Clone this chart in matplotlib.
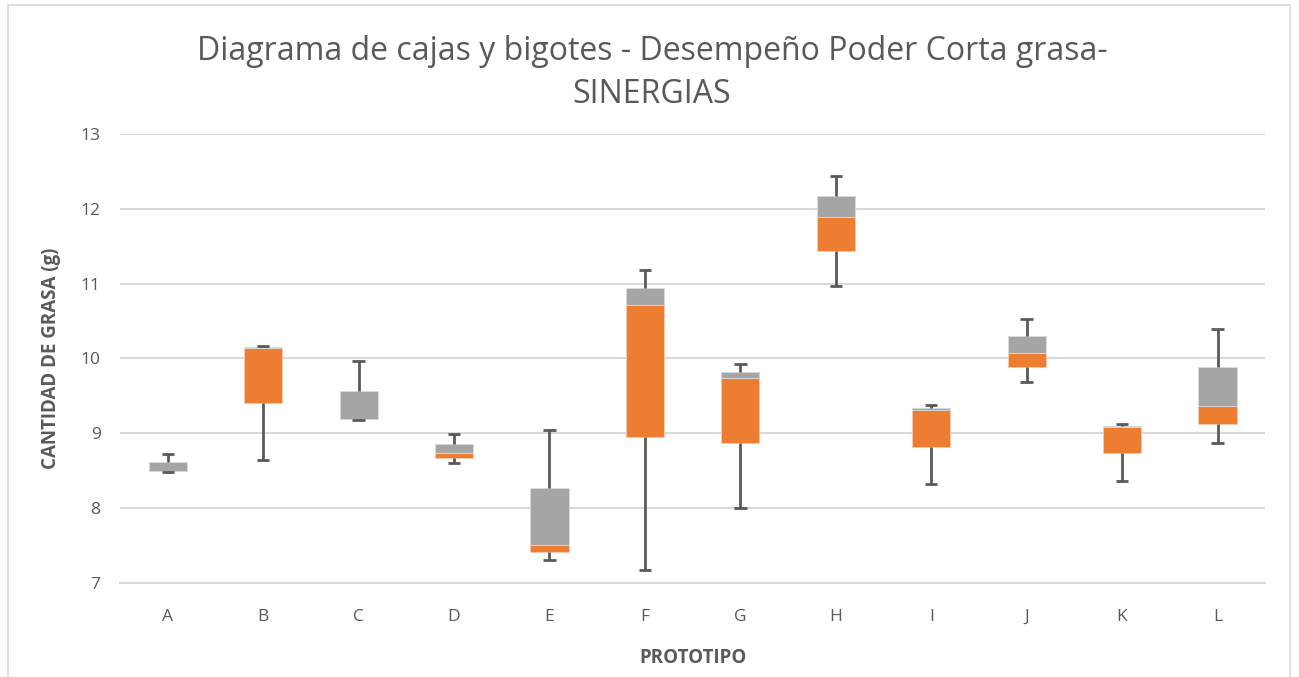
import matplotlib
matplotlib.use("Agg")
import matplotlib.pyplot as plt
from matplotlib.patches import Rectangle
import numpy as np

categories = ["A", "B", "C", "D", "E", "F", "G", "H", "I", "J", "K", "L"]
minimo  = [8.48, 8.64, 9.18, 8.60, 7.30, 7.17, 8.00, 10.97, 8.32, 9.69, 8.36, 8.87]
q1      = [8.49, 9.40, 9.19, 8.67, 7.41, 8.95, 8.87, 11.44, 8.82, 9.88, 8.73, 9.12]
mediana = [8.50, 10.14, 9.19, 8.73, 7.50, 10.72, 9.74, 11.89, 9.31, 10.07, 9.09, 9.37]
q3      = [8.61, 10.15, 9.57, 8.86, 8.27, 10.94, 9.82, 12.17, 9.34, 10.30, 9.10, 9.88]
maximo  = [8.72, 10.17, 9.97, 8.99, 9.04, 11.18, 9.92, 12.44, 9.38, 10.53, 9.12, 10.39]

ORANGE = "#ED7D31"
GRAY = "#A5A5A5"
TXT = "#595959"
plt.rcParams['font.family'] = ['Open Sans', 'DejaVu Sans']

fig = plt.figure(figsize=(12.99, 6.77), dpi=100)
ax = fig.add_axes([0.0924, 0.139, 0.8816, 0.663])

x = np.arange(len(categories))
q1a, meda, q3a = np.array(q1), np.array(mediana), np.array(q3)
mina, maxa = np.array(minimo), np.array(maximo)
w = 0.4

ax.bar(x, q1a, width=w, color="none", zorder=2)
ax.bar(x, meda - q1a, bottom=q1a, width=w, color=ORANGE, edgecolor="#F8CBAD", linewidth=0.6, zorder=3)
ax.bar(x, q3a - meda, bottom=meda, width=w, color=GRAY, edgecolor="#DBDBDB", linewidth=0.6, zorder=3)

wc = "#595959"
ax.vlines(x, q3a, maxa, color=wc, lw=2, zorder=4)
ax.vlines(x, mina, q1a, color=wc, lw=2, zorder=4)
cw = 0.065
ax.hlines(maxa, x - cw, x + cw, color=wc, lw=2, zorder=4)
ax.hlines(mina, x - cw, x + cw, color=wc, lw=2, zorder=4)

ax.set_xlim(-0.5, len(categories) - 0.5)
ax.set_ylim(7, 13)
ax.set_yticks(range(7, 14))
ax.set_xticks(x)
ax.set_xticklabels(categories)
ax.yaxis.grid(True, color="#D9D9D9", lw=1.5, zorder=0)
ax.set_axisbelow(True)
for s in ax.spines.values():
    s.set_visible(False)
ax.spines['bottom'].set_visible(True)
ax.spines['bottom'].set_color("#D9D9D9")
ax.spines['bottom'].set_linewidth(1.5)
ax.tick_params(axis='y', length=0, labelsize=12.5, labelcolor=TXT, pad=14)
ax.tick_params(axis='x', length=0, labelsize=12.5, labelcolor=TXT, pad=19)

ax.set_ylabel("CANTIDAD DE GRASA (g)", fontsize=13.5, fontweight="bold", color=TXT, labelpad=14)
ax.set_xlabel("PROTOTIPO", fontsize=13.5, fontweight="bold", color=TXT, labelpad=16)

fig.text(0.502, 0.892, "Diagrama de cajas y bigotes - Desempeño Poder Corta grasa-\nSINERGIAS",
         ha="center", va="center", fontsize=23, color=TXT, fontweight="normal", linespacing=1.4)

fig.patches.append(Rectangle((0.006, -0.01), 0.987, 1.003, transform=fig.transFigure,
                             fill=False, edgecolor="#D9D9D9", lw=1.2))

fig.savefig("out.png", dpi=100)
